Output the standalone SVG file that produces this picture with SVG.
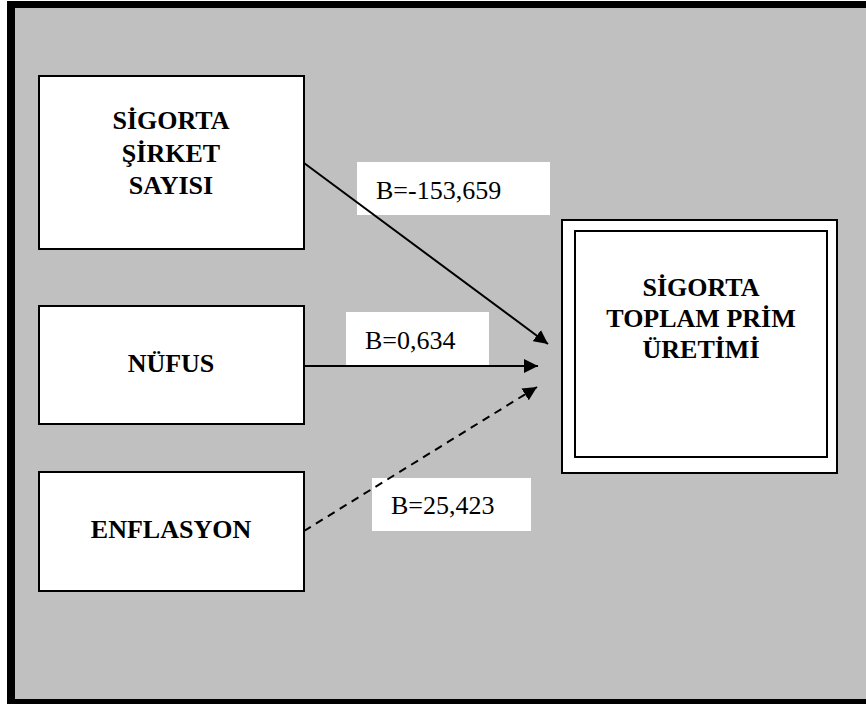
<svg xmlns="http://www.w3.org/2000/svg" width="866" height="704" viewBox="0 0 866 704">
<style>
.box{fill:#fff;stroke:#000;stroke-width:2}
.t{font-family:"Liberation Serif","Times New Roman",serif;font-weight:bold;font-size:26px;text-anchor:middle;fill:#000}
.lb{font-family:"Liberation Serif","Times New Roman",serif;font-size:26px;fill:#000}
.ln{stroke:#000;stroke-width:2;fill:none}
</style>
<defs>
<marker id="ah" viewBox="0 0 10 10" refX="10" refY="5" markerWidth="7" markerHeight="7" markerUnits="userSpaceOnUse" orient="auto">
<path d="M0,0 L10,5 L0,10 z" fill="#000"/>
</marker>
<marker id="ahb" viewBox="0 0 10 10" refX="10" refY="5" markerWidth="14" markerHeight="14" markerUnits="userSpaceOnUse" orient="auto">
<path d="M0,0 L10,5 L0,10 z" fill="#000"/>
</marker>
</defs>
<rect x="7" y="1" width="859" height="703" fill="#000"/>
<rect x="15" y="8" width="851" height="691" fill="#c0c0c0"/>
<g id="n1">
<rect class="box" x="39" y="76" width="265" height="173"/>
<text class="t" x="171" y="129">SİGORTA</text>
<text class="t" x="171" y="162">ŞİRKET</text>
<text class="t" x="171" y="194">SAYISI</text>
</g>
<g id="n2">
<rect class="box" x="39" y="306" width="265" height="118"/>
<text class="t" x="171" y="372">NÜFUS</text>
</g>
<g id="n3">
<rect class="box" x="39" y="472" width="265" height="119"/>
<text class="t" x="171" y="538">ENFLASYON</text>
</g>
<g id="n4">
<rect class="box" x="562" y="220" width="275" height="253"/>
<rect class="box" x="575" y="231" width="252" height="226"/>
<text class="t" x="701" y="296">SİGORTA</text>
<text class="t" x="701" y="327">TOPLAM PRİM</text>
<text class="t" x="701" y="358">ÜRETİMİ</text>
</g>
<g id="labels">
<rect x="357" y="162" width="193" height="53" fill="#fff"/>
<rect x="346" y="312" width="143" height="53" fill="#fff"/>
<rect x="372" y="478" width="159" height="53" fill="#fff"/>
</g>
<g id="connectors">
<line class="ln" x1="304" y1="163" x2="548" y2="344" marker-end="url(#ahb)"/>
<line class="ln" x1="304" y1="366" x2="538" y2="366" marker-end="url(#ahb)"/>
<line class="ln" x1="304" y1="531" x2="537" y2="387" stroke-dasharray="8,6" marker-end="url(#ahb)"/>
</g>
<g id="labeltext">
<text class="lb" x="376" y="199">B=-153,659</text>
<text class="lb" x="365" y="349">B=0,634</text>
<text class="lb" x="391" y="514">B=25,423</text>
</g>
</svg>
